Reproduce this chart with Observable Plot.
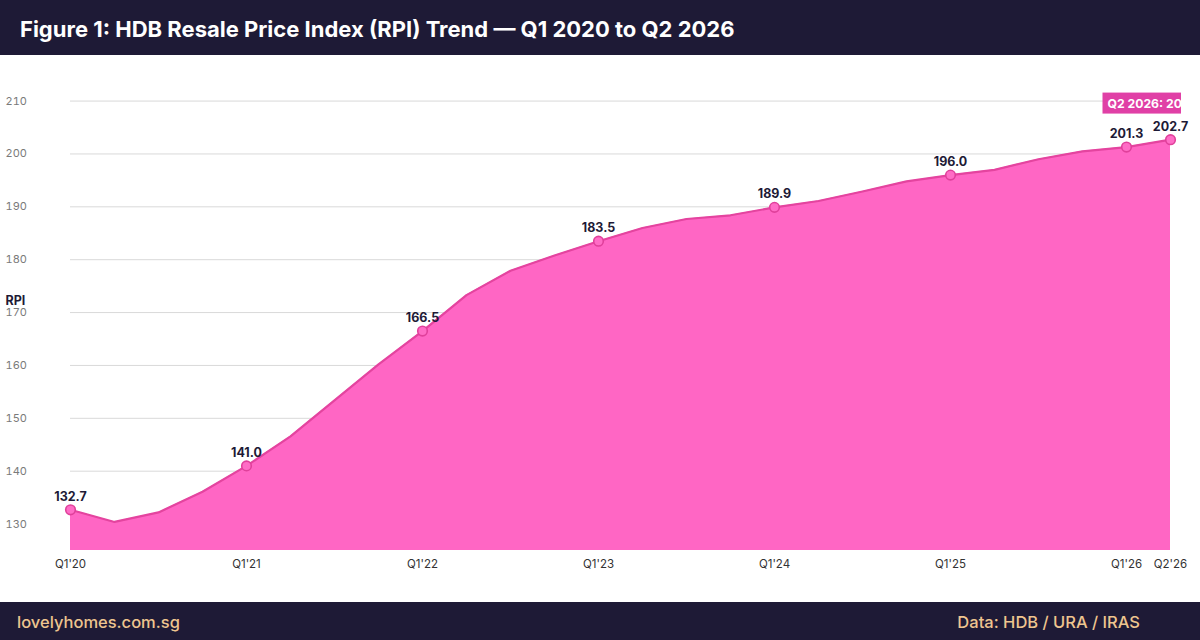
<!DOCTYPE html>
<html>
<head>
<meta charset="utf-8">
<script src="https://cdn.jsdelivr.net/npm/d3@7"></script>
<script src="https://cdn.jsdelivr.net/npm/@observablehq/plot@0.6"></script>
<style>
  html, body { margin: 0; padding: 0; background: #fff; }
  #page { position: relative; width: 1200px; height: 640px; overflow: hidden; font-family: Inter, "Noto Sans", sans-serif; }
  #header { position: absolute; left: 0; top: 0; width: 1200px; height: 55px; background: #1e1a36; }
  #title { position: absolute; left: 20px; top: 0; line-height: 58px; color: #fff; font-weight: 700; font-size: 22px; letter-spacing: 0px; white-space: nowrap; }
  #chart { position: absolute; left: 0; top: 55px; }
  #footer { position: absolute; left: 0; top: 602px; width: 1200px; height: 38px; background: #1e1a36; }
  #footer span { position: absolute; top: 0; line-height: 40px; color: #eec58f; font-size: 16.5px; font-weight: 500; white-space: nowrap; }
  #fl { left: 17px; }
  #fr { right: 60px; }
</style>
</head>
<body>
<div id="page">
  <div id="header"><div id="title"></div></div>
  <div id="chart"></div>
  <div id="footer"><span id="fl"></span><span id="fr"></span></div>
</div>
<script>
const titleText = "Figure 1: HDB Resale Price Index (RPI) Trend — Q1 2020 to Q2 2026";
const footerLeft = "lovelyhomes.com.sg";
const footerRight = "Data: HDB / URA / IRAS";
const yLabel = "RPI";
const calloutText = "Q2 2026: 202.7";

const quarters = [
  "Q1'20","Q2'20","Q3'20","Q4'20",
  "Q1'21","Q2'21","Q3'21","Q4'21",
  "Q1'22","Q2'22","Q3'22","Q4'22",
  "Q1'23","Q2'23","Q3'23","Q4'23",
  "Q1'24","Q2'24","Q3'24","Q4'24",
  "Q1'25","Q2'25","Q3'25","Q4'25",
  "Q1'26","Q2'26"
];
const rpi = [
  132.7, 130.4, 132.2, 136.1,
  141.0, 146.6, 153.4, 160.2,
  166.5, 173.3, 177.9, 180.8,
  183.5, 186.0, 187.7, 188.4,
  189.9, 191.1, 192.9, 194.8,
  196.0, 197.0, 199.0, 200.5,
  201.3, 202.7
];
const xTicks = ["Q1'20","Q1'21","Q1'22","Q1'23","Q1'24","Q1'25","Q1'26","Q2'26"];
const labelledQuarters = ["Q1'20","Q1'21","Q1'22","Q1'23","Q1'24","Q1'25","Q1'26","Q2'26"];
const yTicks = [130, 140, 150, 160, 170, 180, 190, 200, 210];
const yDomain = [125, 212];

document.getElementById("title").textContent = titleText;
document.getElementById("fl").textContent = footerLeft;
document.getElementById("fr").textContent = footerRight;

const data = quarters.map((q, i) => ({q, v: rpi[i]}));
const labelled = data.filter(d => labelledQuarters.includes(d.q));
const last = data.slice(-1);

const chart = Plot.plot({
  width: 1200,
  height: 547,
  marginLeft: 70,
  marginRight: 30,
  marginTop: 35,
  marginBottom: 52,
  style: {fontFamily: "Inter, 'Noto Sans', sans-serif", overflow: "visible", background: "transparent"},
  x: {type: "point", domain: quarters, padding: 0},
  y: {domain: yDomain},
  marks: [
    Plot.gridY(yTicks, {stroke: "#d9d9d9", strokeOpacity: 1, strokeWidth: 1}),
    Plot.areaY(data, {x: "q", y: "v", fill: "#ff66c4", fillOpacity: 1, clip: true}),
    Plot.lineY(data, {x: "q", y: "v", stroke: "#e4449f", strokeWidth: 2.2}),
    Plot.dot(labelled, {x: "q", y: "v", r: 4.8, fill: "#ff6cc6", stroke: "#e0409b", strokeWidth: 1.6}),
    Plot.text(labelled, {x: "q", y: "v", text: d => d.v.toFixed(1), dy: -13, fontWeight: 700, fontSize: 12.5, fill: "#1e1a36"}),
    Plot.axisY(yTicks, {tickSize: 0, tickPadding: 0, textAnchor: "start", dx: -65, fill: "#7a7a7a", fontSize: 11, label: null}),
    Plot.axisX(xTicks, {tickSize: 0, tickPadding: 9, fill: "#333", fontSize: 11.5, label: null}),
    Plot.text([yLabel], {frameAnchor: "left", text: d => d, dx: -65, dy: -20, textAnchor: "start", fontWeight: 700, fontSize: 12.5, fill: "#1e1a36"}),
    Plot.text(last, {x: "q", y: "v", text: () => calloutText, textAnchor: "start", dx: -63, dy: -36, fill: "#ffffff", fontWeight: 700, fontSize: 12.2})
  ]
});
document.getElementById("chart").appendChild(chart);

// background box behind the callout label, clipped at the right like the reference
const ns = "http://www.w3.org/2000/svg";
const defs = document.createElementNS(ns, "defs");
const cp = document.createElementNS(ns, "clipPath");
cp.setAttribute("id", "callout-clip");
const cr = document.createElementNS(ns, "rect");
cr.setAttribute("x", 0); cr.setAttribute("y", 0);
cr.setAttribute("width", 1181); cr.setAttribute("height", 547);
cp.appendChild(cr); defs.appendChild(cp); chart.insertBefore(defs, chart.firstChild);

chart.querySelectorAll("text").forEach(t => {
  if (t.textContent === calloutText) {
    const b = t.getBBox();
    const r = document.createElementNS(ns, "rect");
    r.setAttribute("x", b.x - 5);
    r.setAttribute("y", b.y - 3);
    r.setAttribute("width", b.width + 10);
    r.setAttribute("height", b.height + 6);
    r.setAttribute("fill", "#e040a6");
    const tf = t.getAttribute("transform");
    if (tf) r.setAttribute("transform", tf);
    const g = t.parentNode;
    g.insertBefore(r, t);
    const wrap = document.createElementNS(ns, "g");
    wrap.setAttribute("clip-path", "url(#callout-clip)");
    g.parentNode.insertBefore(wrap, g);
    wrap.appendChild(g);
  }
});
</script>
</body>
</html>
